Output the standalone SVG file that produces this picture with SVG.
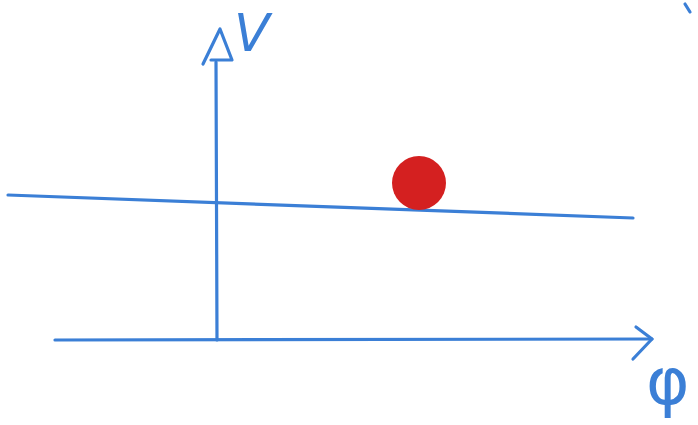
<svg xmlns="http://www.w3.org/2000/svg" width="698" height="425" viewBox="0 0 698 425">
<style>
.ink{fill:none;stroke:#3b7fd6;stroke-width:3.2;stroke-linecap:round;stroke-linejoin:round}
.lbl{fill:#3b7fd6;font-family:"DejaVu Sans",sans-serif}
</style>
<rect width="698" height="425" fill="#ffffff"/>
<g id="axes">
<path class="ink" d="M217,340 L216,62"/>
<path class="ink" d="M203,64 L220,29 L232,60 L211,60"/>
<path class="ink" d="M55,340 L652,339"/>
<path class="ink" d="M636,327 L652,339 L633,359"/>
<path class="ink" d="M8,195 L633,218"/>
<path class="ink" d="M685,4 L690,12"/>
</g>
<g id="labels">
<text class="lbl" x="234" y="51" font-size="52" font-style="italic">V</text>
<text class="lbl" x="646" y="404" font-size="66">φ</text>
</g>
<g id="dot">
<circle cx="419" cy="183" r="27" fill="#d42020"/>
</g>
</svg>
